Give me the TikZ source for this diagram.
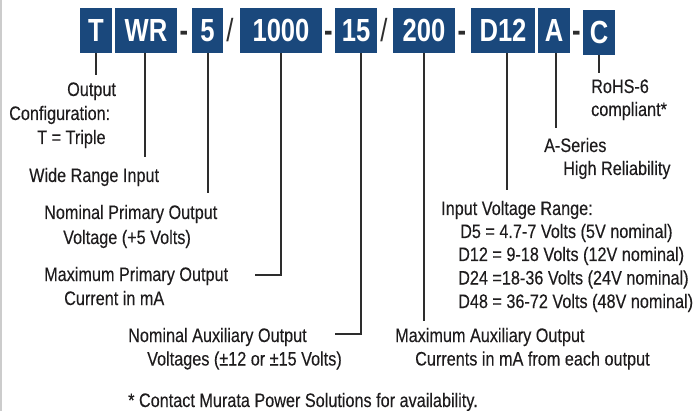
\documentclass[tikz,border=0pt]{standalone}
\usepackage{fontspec}
\setmainfont{Liberation Sans}
\newfontfamily\lblfont{Liberation Sans}[FakeStretch=0.832,FakeBold=0.25]
\newfontfamily\boxfont{Liberation Sans}[FakeStretch=0.8]
\definecolor{boxblue}{RGB}{26,72,124}
\definecolor{ink}{RGB}{30,28,29}
\definecolor{wire}{RGB}{45,45,45}
\begin{document}
\begin{tikzpicture}[x=1pt,y=-1pt,
  codebox/.style={fill=boxblue,text=white,inner sep=0pt,minimum height=45pt,
    text height=23pt,text depth=0pt,font=\boxfont\bfseries\fontsize{32}{32}\selectfont},
  sep/.style={text=wire,inner sep=0pt,text height=23pt,text depth=0pt,
    font=\boxfont\fontsize{32}{32}\selectfont},
  dashsep/.style={sep,font=\boxfont\bfseries\fontsize{32}{32}\selectfont},
  lbl/.style={anchor=base west,inner sep=0pt,text=ink,font=\lblfont\fontsize{19.5}{23}\selectfont},
  wireline/.style={draw=wire,line width=1.4pt}]
\useasboundingbox (0,0) rectangle (695,411);
\fill[gray!40] (0,0) rectangle (2,411);
% code boxes
\node[codebox,minimum width=32pt] (bT) at (96,30.5) {T};
\node[codebox,minimum width=62pt] (bWR) at (146,30.5) {WR};
\node[dashsep] (s1) at (184,30.5) {-};
\node[codebox,minimum width=31pt] (b5) at (207.5,30.5) {5};
\node[sep] (s2) at (230,30.5) {/};
\node[codebox,minimum width=82pt] (b1000) at (281,30.5) {1000};
\node[dashsep] (s3) at (328.5,30.5) {-};
\node[codebox,minimum width=42pt] (b15) at (356,30.5) {15};
\node[sep] (s4) at (384,30.5) {/};
\node[codebox,minimum width=62pt] (b200) at (424,30.5) {200};
\node[dashsep] (s5) at (462,30.5) {-};
\node[codebox,minimum width=64pt] (bD12) at (503,30.5) {D12};
\node[codebox,minimum width=32pt] (bA) at (554,30.5) {A};
\node[dashsep] (s6) at (576.5,30.5) {-};
\node[codebox,minimum width=32pt] (bC) at (599,32.5) {C};
% connector ends
\coordinate (eT) at (96,75);
\coordinate (eWR) at (145,157);
\coordinate (e5) at (208,193);
\coordinate (e1000) at (255,275);
\coordinate (e15) at (335,334);
\coordinate (e200) at (424,321);
\coordinate (eD12) at (507,190);
\coordinate (eA) at (556,128);
\coordinate (eC) at (599,73);
\draw[wireline] (bT.south) -- (eT);
\draw[wireline] ([xshift=-1pt]bWR.south) -- (eWR);
\draw[wireline] ([xshift=0.5pt]b5.south) -- (e5);
\draw[wireline] (b1000.south) |- (e1000);
\draw[wireline] ([xshift=5pt]b15.south) |- (e15);
\draw[wireline] (b200.south) -- (e200);
\draw[wireline] ([xshift=4pt]bD12.south) -- (eD12);
\draw[wireline] ([xshift=2pt]bA.south) -- (eA);
\draw[wireline] (bC.south) -- (eC);
% labels
\node[lbl] (t1) at (67,96) {Output};
\node[lbl] (t2) at (9,120) {Configuration:};
\node[lbl] (t3) at (37,144) {T = Triple};
\node[lbl] (t4) at (29,182) {Wide Range Input};
\node[lbl] (t5) at (44,219) {Nominal Primary Output};
\node[lbl] (t6) at (63,244) {Voltage (+5 Volts)};
\node[lbl] (t7) at (44,281) {Maximum Primary Output};
\node[lbl] (t8) at (64,305) {Current in mA};
\node[lbl] (t9) at (128,342) {Nominal Auxiliary Output};
\node[lbl] (t10) at (147,365.5) {Voltages (±12 or ±15 Volts)};
\node[lbl] (t11) at (395,342) {Maximum Auxiliary Output};
\node[lbl] (t12) at (415,365.5) {Currents in mA from each output};
\node[lbl] (t13) at (441,215) {Input Voltage Range:};
\node[lbl] (t14) at (460,238) {D5 = 4.7-7 Volts (5V nominal)};
\node[lbl] (t15) at (458,261) {D12 = 9-18 Volts (12V nominal)};
\node[lbl] (t16) at (458,284.5) {D24 =18-36 Volts (24V nominal)};
\node[lbl] (t17) at (458,308) {D48 = 36-72 Volts (48V nominal)};
\node[lbl] (t18) at (544,152) {A-Series};
\node[lbl] (t19) at (563,175) {High Reliability};
\node[lbl] (t20) at (591,93) {RoHS-6};
\node[lbl] (t21) at (591,116) {compliant*};
\node[lbl] (t22) at (128,407) {* Contact Murata Power Solutions for availability.};
\end{tikzpicture}
\end{document}
